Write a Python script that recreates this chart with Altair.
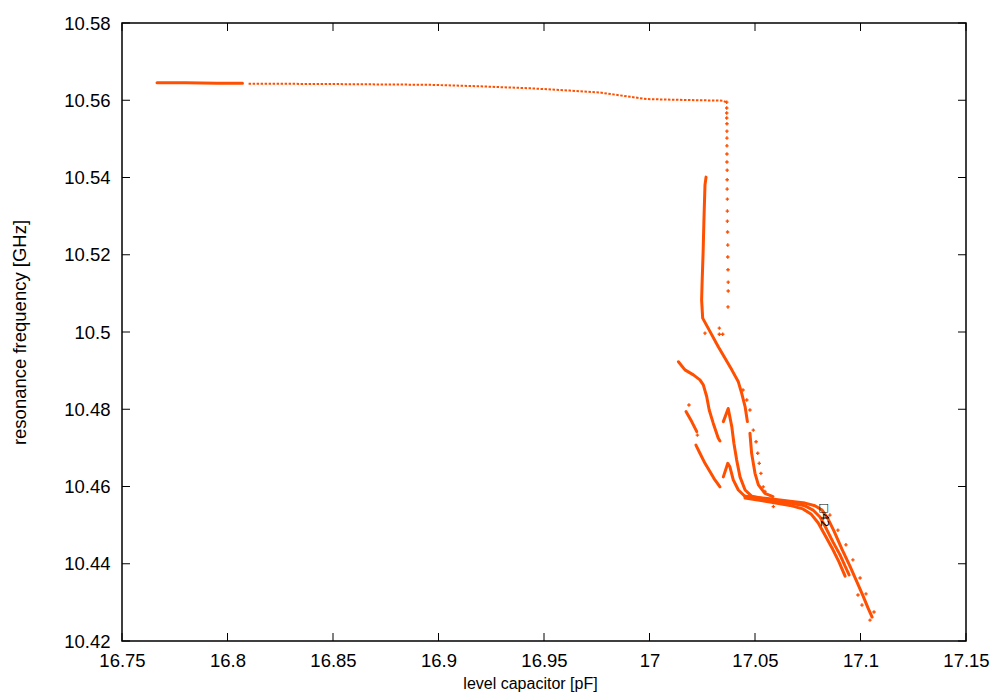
import altair as alt
import pandas as pd

ORANGE = "#ff4f00"

# ---- data ----
top_dense_x = [16.7666, 16.7700, 16.7800, 16.7950, 16.8071]
top_dense_y = [10.5645, 10.5645, 10.5645, 10.5644, 10.5644]

top_x = [16.8100, 16.8486, 16.8960, 16.9197, 16.9434, 16.9623, 16.9765, 16.9908,
         16.9988, 17.0064, 17.0239, 17.0348, 17.0362]
top_y = [10.5643, 10.5642, 10.5640, 10.5636, 10.5631, 10.5625, 10.5620, 10.5609,
         10.5603, 10.5602, 10.5600, 10.5599, 10.5595]

drop_x = [17.0366, 17.0366, 17.0366, 17.0366, 17.0367, 17.0367, 17.0367, 17.0367,
          17.0367, 17.0367, 17.0368, 17.0368, 17.0368, 17.0369, 17.0369, 17.0369,
          17.0370, 17.0371, 17.0371, 17.0372, 17.0373, 17.0373, 17.0372]
drop_y = [10.5595, 10.5580, 10.5567, 10.5554, 10.5539, 10.5520, 10.5502, 10.5482,
          10.5461, 10.5440, 10.5419, 10.5394, 10.5370, 10.5344, 10.5313, 10.5287,
          10.5259, 10.5225, 10.5194, 10.5161, 10.5129, 10.5106, 10.5065]

main_a_x = [17.0268, 17.0263, 17.0258, 17.0254, 17.0249, 17.0247, 17.0252, 17.0287,
            17.0326, 17.0358, 17.0390, 17.0421, 17.0437, 17.0453, 17.0464]
main_a_y = [10.5401, 10.5381, 10.5290, 10.5205, 10.5122, 10.5083, 10.5036, 10.5001,
            10.4962, 10.4932, 10.4902, 10.4871, 10.4841, 10.4807, 10.4768]

main_b_x = [17.0476, 17.0484, 17.0500, 17.0516, 17.0547, 17.0585]
main_b_y = [10.4738, 10.4686, 10.4634, 10.4604, 10.4582, 10.4574]

s2_x = [17.0137, 17.0168, 17.0208, 17.0239, 17.0255, 17.0271, 17.0283, 17.0302, 17.0326, 17.0334]
s2_y = [10.4923, 10.4902, 10.4889, 10.4876, 10.4863, 10.4833, 10.4798, 10.4764, 10.4725, 10.4718]

s3a_x = [17.0173, 17.0200, 17.0224]
s3a_y = [10.4794, 10.4768, 10.4742]

s3b_x = [17.0220, 17.0239, 17.0263, 17.0287, 17.0310, 17.0334]
s3b_y = [10.4707, 10.4686, 10.4660, 10.4638, 10.4617, 10.4599]

c_x = [17.0350, 17.0373, 17.0390, 17.0400, 17.0413, 17.0429, 17.0453, 17.0484, 17.0539]
c_y = [10.4768, 10.4802, 10.4755, 10.4712, 10.4669, 10.4625, 10.4591, 10.4575, 10.4569]

d_x = [17.0350, 17.0371, 17.0381, 17.0397, 17.0421, 17.0453, 17.0500]
d_y = [10.4625, 10.4660, 10.4651, 10.4617, 10.4591, 10.4574, 10.4568]

u_x = [17.0453, 17.0571, 17.0666, 17.0737, 17.0784, 17.0818, 17.0846, 17.0874,
       17.0912, 17.0950, 17.0983, 17.1012, 17.1036, 17.1055]
u_y = [10.4575, 10.4568, 10.4562, 10.4557, 10.4550, 10.4539, 10.4516, 10.4485,
       10.4438, 10.4394, 10.4353, 10.4317, 10.4285, 10.4262]

m2_x = [17.0453, 17.0571, 17.0666, 17.0737, 17.0775, 17.0808, 17.0836, 17.0870,
        17.0903, 17.0931, 17.0946]
m2_y = [10.4573, 10.4564, 10.4557, 10.4550, 10.4539, 10.4521, 10.4493, 10.4456,
        10.4423, 10.4389, 10.4371]

l_x = [17.0453, 17.0571, 17.0666, 17.0727, 17.0765, 17.0799, 17.0832, 17.0865,
       17.0898, 17.0927]
l_y = [10.4570, 10.4560, 10.4551, 10.4542, 10.4529, 10.4506, 10.4474, 10.4441,
       10.4405, 10.4368]

scatter_x = [17.0476, 17.0492, 17.0505, 17.0513, 17.0520, 17.0528, 17.0539, 17.0443,
             17.0461, 17.0331, 17.0331, 17.0347, 17.0263, 17.0587, 17.0547, 17.0187,
             17.0227, 17.0855, 17.0893, 17.0931, 17.0964, 17.0998, 17.1026, 17.1045,
             17.1064, 17.1007, 17.0988]
scatter_y = [10.4798, 10.4746, 10.4716, 10.4686, 10.4660, 10.4634, 10.4599, 10.4850,
             10.4824, 10.5010, 10.4994, 10.4994, 10.4997, 10.4548, 10.4587, 10.4811,
             10.4733, 10.4526, 10.4487, 10.4449, 10.4410, 10.4363, 10.4322, 10.4254,
             10.4275, 10.4293, 10.4319]

label_x = [17.0827]
label_y = [10.4526]
label_text = ["\u25a142"]

x_ticks = [16.75, 16.8, 16.85, 16.9, 16.95, 17.0, 17.05, 17.1, 17.15]
y_ticks = [10.42, 10.44, 10.46, 10.48, 10.5, 10.52, 10.54, 10.56, 10.58]

# ---- tables ----
def seg_table(segs):
    rows = []
    for name, xs, ys in segs:
        for i, (a, b) in enumerate(zip(xs, ys)):
            rows.append({"seg": name, "i": i, "x": a, "y": b})
    return pd.DataFrame(rows)

dense_df = seg_table([
    ("top_dense", top_dense_x, top_dense_y),
    ("main_a", main_a_x, main_a_y),
    ("main_b", main_b_x, main_b_y),
    ("s2", s2_x, s2_y),
    ("s3a", s3a_x, s3a_y),
    ("s3b", s3b_x, s3b_y),
    ("c", c_x, c_y),
    ("d", d_x, d_y),
    ("u", u_x, u_y),
    ("m2", m2_x, m2_y),
    ("l", l_x, l_y),
])
top_df = seg_table([("top", top_x, top_y)])
pts_df = pd.DataFrame({"x": drop_x + scatter_x, "y": drop_y + scatter_y})
lab_df = pd.DataFrame({"x": label_x, "y": label_y, "t": label_text})
xt_df = pd.DataFrame({"x": x_ticks})
yt_df = pd.DataFrame({"y": y_ticks})

W, H = 844, 618
xscale = alt.Scale(domain=[16.75, 17.15], nice=False, zero=False)
yscale = alt.Scale(domain=[10.42, 10.58], nice=False, zero=False)

X = alt.X("x:Q", scale=xscale, axis=alt.Axis(
    values=x_ticks, format="~g", title="level capacitor [pF]",
    labelPadding=10, labelFlush=False, titleX=408, titleY=47,
    titleBaseline="alphabetic", titleFontSize=16))
Y = alt.Y("y:Q", scale=yscale, axis=alt.Axis(
    values=y_ticks, format="~g", title="resonance frequency [GHz]",
    labelPadding=12, labelFlush=False, titlePadding=34, titleFontSize=18.5))

dense = alt.Chart(dense_df).mark_line(
    color=ORANGE, strokeWidth=3, strokeCap="round", strokeJoin="round"
).encode(x=X, y=Y, detail="seg:N", order="i:Q")

top = alt.Chart(top_df).mark_line(
    color=ORANGE, strokeWidth=2, strokeDash=[2.5, 1.5]
).encode(x=X, y=Y, detail="seg:N", order="i:Q")

pts = alt.Chart(pts_df).mark_point(
    shape="cross", filled=True, size=12, color=ORANGE, opacity=1
).encode(x=X, y=Y)

lab = alt.Chart(lab_df).mark_text(
    angle=90, fontSize=11, color="black", font="DejaVu Sans"
).encode(x=X, y=Y, text="t:N")

def xtick(y0, y1):
    return alt.Chart(xt_df).mark_rule(color="black", strokeWidth=1).encode(
        x=X, y=alt.value(y0), y2=alt.value(y1))

def ytick(x0, x1):
    return alt.Chart(yt_df).mark_rule(color="black", strokeWidth=1).encode(
        y=Y, x=alt.value(x0), x2=alt.value(x1))

chart = alt.layer(
    top, dense, pts, lab,
    xtick(H, H - 8), xtick(0, 8), ytick(0, 8), ytick(W, W - 8),
).properties(
    width=W, height=H,
    autosize=alt.AutoSizeParams(type="none"),
    padding={"left": 114, "top": 15, "right": 26, "bottom": 51},
).configure_view(
    stroke="black", strokeWidth=1.5
).configure_axis(
    grid=False, domain=False, ticks=False,
    labelFont="Liberation Sans", labelFontSize=18.5, labelColor="black",
    titleFont="Liberation Sans", titleFontWeight="normal",
    titleColor="black",
)

chart.save("out.html", embed_options={"renderer": "svg", "actions": False})
